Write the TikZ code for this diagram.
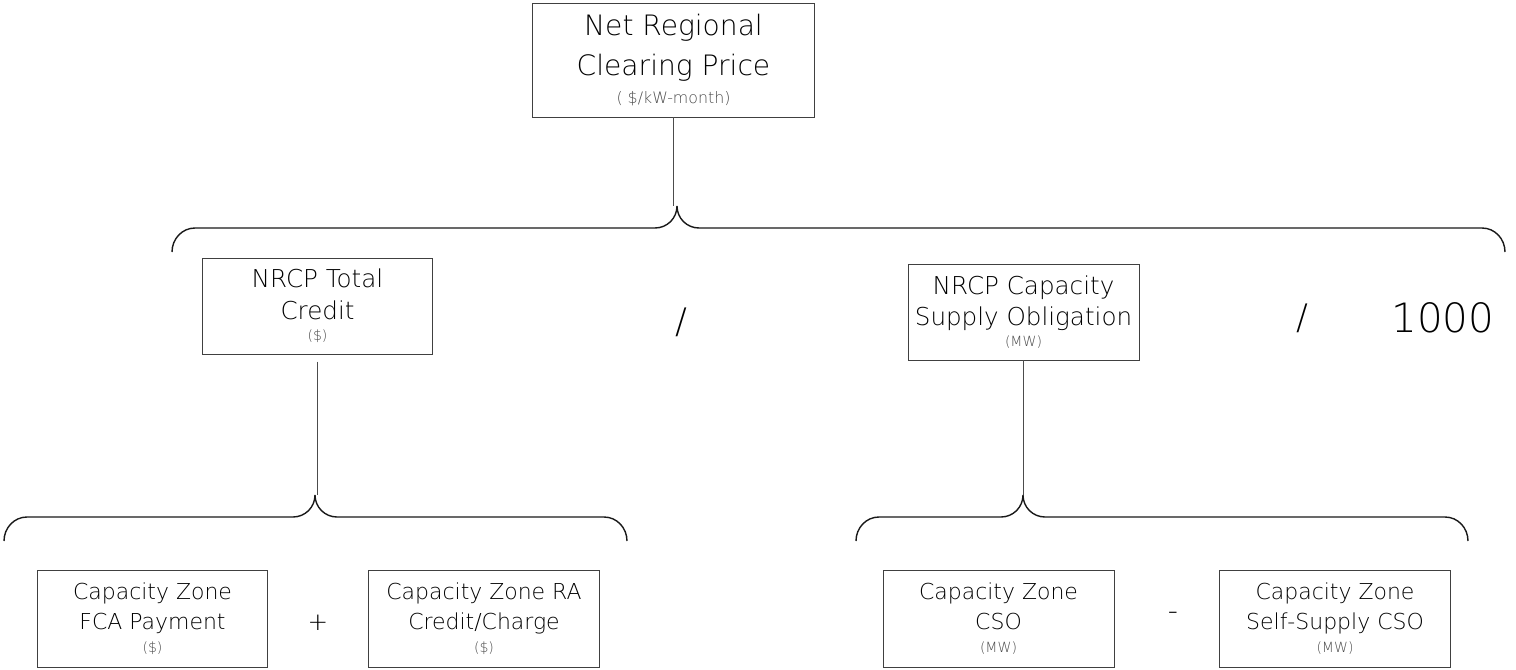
\documentclass[tikz,border=0pt]{standalone}
\usepackage{fontspec}
\IfFontExistsTF{DejaVu Sans ExtraLight}
  {\setmainfont{DejaVu Sans ExtraLight}[BoldFont=DejaVu Sans]}
  {\setmainfont{DejaVu Sans}}

% curly brace: left x, tip x, right x, height of the bar
\newcommand{\drawbrace}[4]{%
\draw[brace] (#1,#4-24) to[out=90,in=180] (#1+23,#4) -- (#2-22,#4)
  to[out=0,in=-90] (#2,#4+22) to[out=-90,in=180] (#2+22,#4)
  -- (#3-23,#4) to[out=0,in=90] (#3,#4-24);}
\newcommand{\unitA}{\fontsize{9}{10}\selectfont\color{black!70}}
\newcommand{\unitB}{\fontsize{8}{9}\selectfont\color{black!70}}

\tikzset{
  box/.style={draw=black!75, line width=0.55pt, align=center, inner sep=0pt, text=black},
  topbox/.style={box, minimum width=5.66cm, minimum height=2.28cm, font=\fontsize{16}{22.7}\selectfont},
  midbox/.style={box, minimum width=4.62cm, minimum height=1.92cm, font=\fontsize{14}{18}\selectfont},
  lowbox/.style={box, minimum width=4.62cm, minimum height=1.94cm, font=\fontsize{12.5}{17}\selectfont},
  brace/.style={line width=0.8pt, black!90},
  link/.style={line width=0.6pt, black!70},
  op/.style={text=black, inner sep=0pt}
}

\begin{document}
\begin{tikzpicture}[x=0.02cm,y=0.02cm]
\useasboundingbox (0,0) rectangle (1516,-670);

% price
\node[topbox] (nrcp) at (673.5,-60) {Net Regional\\Clearing Price\\[-7pt]{\unitA ( \$/kW-month)}};
\coordinate (tipT) at (677,-206);
\draw[link] (nrcp.south) -- (nrcp.south |- tipT);
\drawbrace{172}{677}{1505}{-228}

% credit / obligation / 1000
\node[midbox] (credit) at (317.5,-306) {NRCP Total\\Credit\\[-6pt]{\unitB (\$)}};
\node[op, font=\fontsize{20}{20}\selectfont] (div1) at (681,-322) {/};
\node[midbox] (oblig) at (1023.5,-312) {NRCP Capacity\\Supply Obligation\\[-6pt]{\unitB (MW)}};
\node[op, font=\fontsize{20}{20}\selectfont] (div2) at (1302,-318) {/};
\node[op, font=\fontsize{23}{23}\selectfont] (kilo) at (1443,-318) {1000};

\coordinate (tipL) at (315,-495);
\coordinate (tipR) at (1023,-495);
\draw[link] ([yshift=-4pt]credit.south) -- (credit.south |- tipL);
\draw[link] (oblig.south) -- (oblig.south |- tipR);
\drawbrace{4}{315}{627}{-517}
\drawbrace{856}{1023}{1468}{-517}

% zone terms
\node[lowbox] (fca) at (152.5,-618.5) {Capacity Zone\\FCA Payment\\[-4pt]{\unitB (\$)}};
\node[op, font=\fontsize{14}{14}\selectfont] (plus) at (318,-623) {+};
\node[lowbox] (ra) at (484,-618.5) {Capacity Zone RA\\Credit/Charge\\[-4pt]{\unitB (\$)}};
\node[lowbox] (zcso) at (998.5,-618.5) {Capacity Zone\\CSO\\[-4pt]{\unitB (MW)}};
\node[op, font=\fontsize{16}{16}\selectfont] (minus) at (1173,-616) {-};
\node[lowbox] (selfcso) at (1335,-618.5) {Capacity Zone\\Self-Supply CSO\\[-4pt]{\unitB (MW)}};
\end{tikzpicture}
\end{document}
